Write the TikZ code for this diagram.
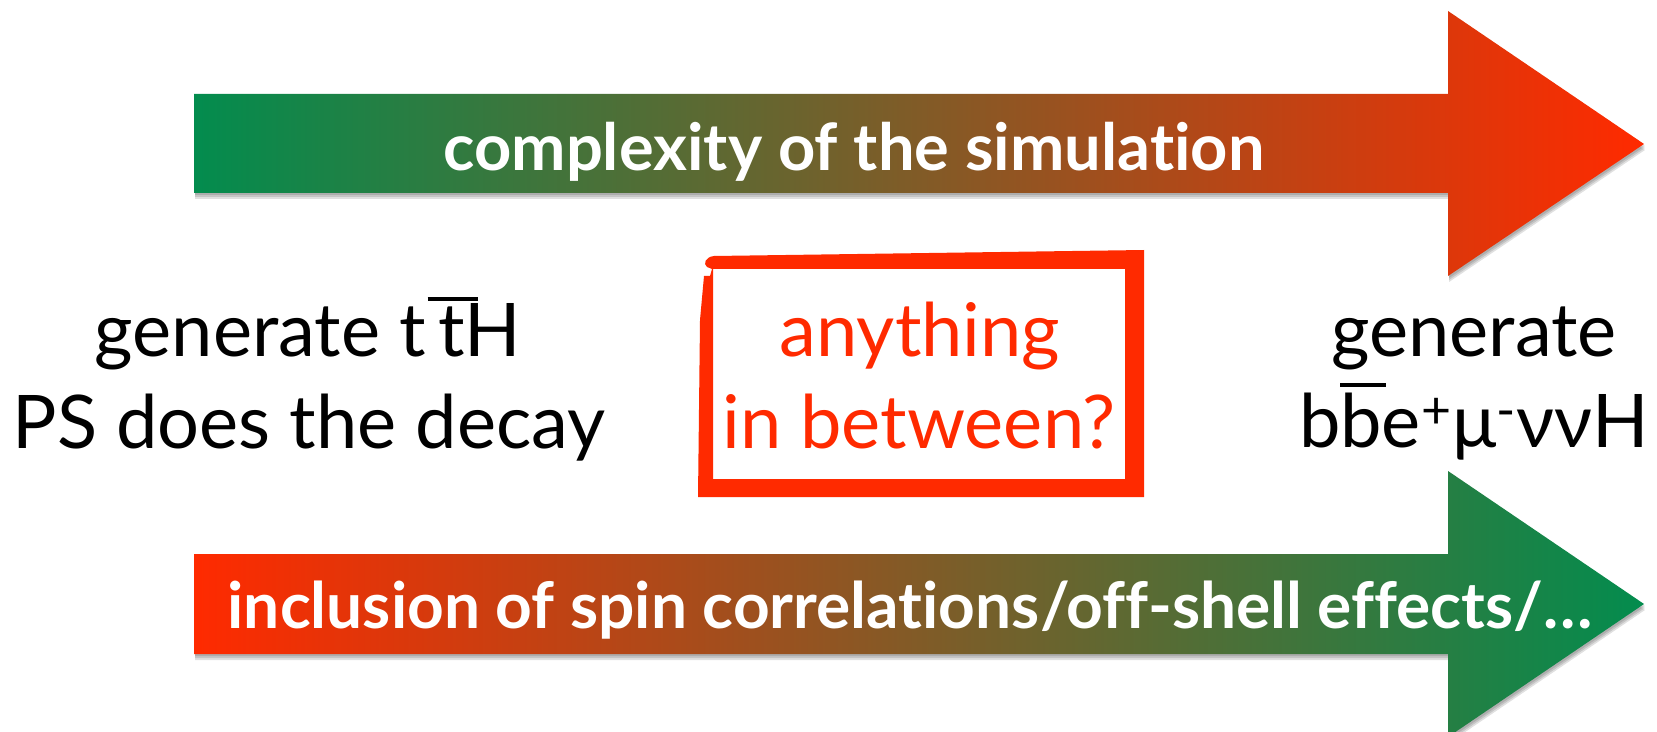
\documentclass[tikz,border=0pt]{standalone}
\usepackage{fontspec}
\setmainfont{Lato}[Ligatures=NoCommon]
\definecolor{tgreen}{HTML}{038C4E}
\definecolor{tred}{HTML}{FF2A00}
\definecolor{boxred}{HTML}{FF2A00}
\newcommand\ovbar[4]{\leavevmode\rlap{\hspace{#1}\rule[#2]{#3}{0.055em}}#4}
\begin{document}
\begin{tikzpicture}[x=0.5pt,y=-0.5pt,
  blacktext/.style={anchor=base,inner sep=0pt,font=\fontsize{37pt}{44pt}\selectfont},
  redtext/.style={blacktext,text=boxred},
  whitetext/.style={anchor=base,inner sep=0pt,text=white,font=\bfseries\fontsize{32pt}{38pt}\selectfont},
  shadowfill/.style={fill=black,opacity=0.12}]
\useasboundingbox (0,0) rectangle (1657,732);
% arrow shadows
\foreach \s in {2,4,6}{
\fill[shadowfill,shift={(1,\s)}] (194,94) -- (1448,94) -- (1448,11) -- (1644,144) -- (1448,276) -- (1448,193) -- (194,193) -- cycle;
\fill[shadowfill,shift={(1,\s)}] (194,554) -- (1448,554) -- (1448,471) -- (1644,604) -- (1448,737) -- (1448,654) -- (194,654) -- cycle;
}
% top arrow
\path[left color=tgreen,right color=tred] (194,94) -- (1448,94) -- (1448,11) -- (1644,144) -- (1448,276) -- (1448,193) -- (194,193) -- cycle;
% bottom arrow
\path[left color=tred,right color=tgreen] (194,554) -- (1448,554) -- (1448,471) -- (1644,604) -- (1448,737) -- (1448,654) -- (194,654) -- cycle;
\node[whitetext,font=\bfseries\fontsize{32.5pt}{38pt}\selectfont] (toplabel) at (854,171) {complexity of the simulation};
\node[whitetext] (botlabel) at (910,628) {inclusion of spin correlations/off-shell effects/\ldots};
% hand-drawn box
\fill[boxred,even odd rule]
  (714,256) -- (1144,250) -- (1144,497) -- (698,497) -- (700,320) -- (704,276) -- (710,276) -- (712,269) -- (707,267)
  .. controls (703,264) and (705,257) .. (714,256) -- cycle
  (713,269) -- (1125,269) -- (1125,479) -- (713,479) -- cycle;
\node[redtext] (any1) at (920,356) {anything};
\node[redtext] (any2) at (919,448) {in between?};
% left text
\node[blacktext] (left1) at (308,357) {generate t\,\ovbar{-0.14em}{0.76em}{0.68em}{t}H};
\node[blacktext] (left2) at (309,448) {PS does the decay};
% right text
\node[blacktext] (right1) at (1474,356) {generate};
\node[blacktext] (right2) at (1474,447) {b\ovbar{0em}{0.81em}{0.62em}{b}e\textsuperscript{+}μ\textsuperscript{-}ννH};
\end{tikzpicture}
\end{document}
